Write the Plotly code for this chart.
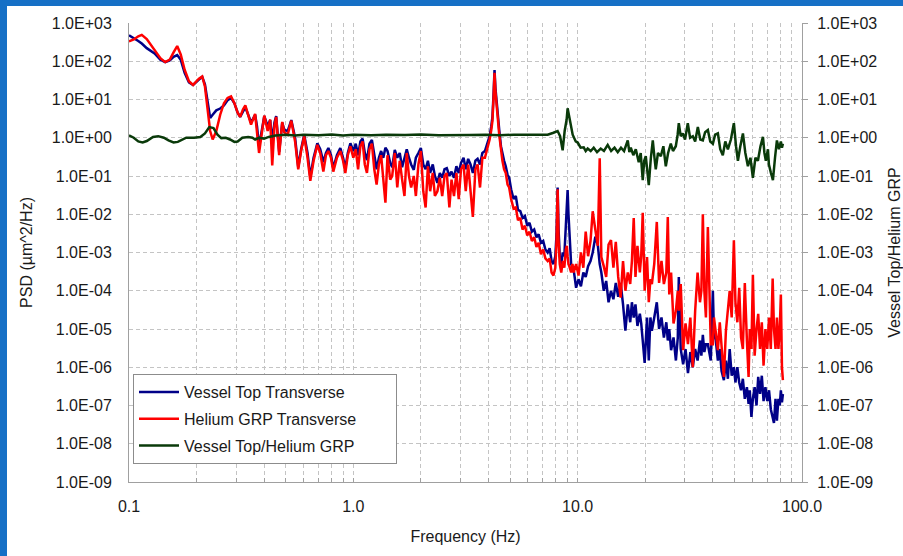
import plotly.graph_objects as go

# ---------------- data ----------------
# shared frequency grid of the two PSD spectra (Hz)
freq_psd = [
    0.100, 0.105, 0.110, 0.114, 0.120, 0.130, 0.138, 0.145, 0.152, 0.158,
    0.164, 0.170, 0.177, 0.185, 0.193, 0.205, 0.212, 0.218, 0.224, 0.230,
    0.236, 0.245, 0.255, 0.265, 0.275, 0.285, 0.295, 0.305, 0.313, 0.322,
    0.330, 0.340, 0.350, 0.365, 0.372, 0.380, 0.390, 0.401, 0.415, 0.426,
    0.435, 0.445, 0.453, 0.467, 0.482, 0.492, 0.510, 0.529, 0.550, 0.568,
    0.585, 0.604, 0.625, 0.643, 0.665, 0.691, 0.712, 0.735, 0.755, 0.774,
    0.795, 0.814, 0.845, 0.875, 0.900, 0.921, 0.945, 0.970,
    1.00, 1.025, 1.05, 1.075, 1.10, 1.125, 1.15, 1.18, 1.21, 1.24,
    1.27, 1.30, 1.33, 1.36, 1.39, 1.42, 1.46, 1.49, 1.53, 1.57,
    1.61, 1.65, 1.69, 1.73, 1.77, 1.81, 1.86, 1.90, 1.95, 2.00,
    2.05, 2.10, 2.15, 2.20, 2.26, 2.31, 2.37, 2.43, 2.49, 2.55,
    2.61, 2.68, 2.74, 2.81, 2.88, 2.95, 3.02, 3.10, 3.17, 3.25,
    3.33, 3.41, 3.50, 3.58, 3.67, 3.76, 3.86, 3.95, 4.05, 4.12,
    4.17, 4.22, 4.26, 4.30, 4.35, 4.40, 4.47, 4.55,
    4.62, 4.70, 4.78, 4.87, 4.95, 5.05, 5.18, 5.30, 5.42, 5.55,
    5.68, 5.82, 5.96, 6.10, 6.25, 6.40, 6.55, 6.70, 6.86, 7.02,
    7.18, 7.35, 7.50, 7.65, 7.80, 7.95, 8.05, 8.14, 8.22, 8.32,
    8.45, 8.58, 8.72, 8.86, 8.95, 9.02, 9.10, 9.22, 9.35, 9.48,
    9.60, 9.84, 10.09, 10.34, 10.60, 10.86, 11.13, 11.41, 11.67, 11.99,
    12.29, 12.54, 12.75, 13.07, 13.40, 13.73, 14.08, 14.43, 14.79, 15.16,
    15.54, 15.93, 16.32, 16.73, 17.15, 17.45, 17.78, 18.10, 18.47, 18.93,
    19.20, 19.50, 19.89, 20.38, 20.75, 21.10, 21.42, 21.95, 22.53, 23.06,
    23.64, 24.23, 24.84, 25.22, 25.60, 26.09, 26.75, 27.41, 27.95, 28.24,
    28.80, 29.52, 30.26, 31.02, 31.79, 32.59, 33.40, 34.24, 35.09, 35.60,
    36.14, 36.70, 37.30, 38.05, 38.80, 39.20, 40.06, 40.50, 41.30, 42.17,
    43.00, 43.80, 44.85, 45.80, 46.73, 47.60, 48.60, 49.70, 50.50, 51.50,
    52.50, 53.50, 54.50, 55.60, 56.80, 57.80, 58.50, 59.50, 60.40, 61.50,
    62.70, 63.80, 65.00, 66.20, 67.40, 68.70, 70.00, 71.30, 72.60, 74.00,
    74.99, 76.20, 77.30, 78.50, 79.60, 80.50, 81.40, 82.20,
]

# Vessel Top Transverse PSD (um^2/Hz)
psd_vessel = [
    480, 410, 340, 290, 220, 160, 110, 95, 105, 130,
    145, 110, 50, 28, 24, 33, 39, 25, 8, 3.3,
    4.0, 5.2, 5.8, 7, 9.5, 11, 8, 4.5, 3.5, 5,
    6.3, 4, 2.5, 4, 2, 0.6, 1.5, 3.7, 2.0, 2.9,
    0.8, 2.5, 3.7, 0.43, 2.5, 1.6, 1.5, 2.9, 1.0, 0.17,
    0.5, 1.2, 0.4, 0.093, 0.3, 0.72, 0.5, 0.23, 0.4, 0.54,
    0.35, 0.16, 0.35, 0.54, 0.3, 0.16, 0.4, 0.72,
    0.45, 0.7, 0.35, 0.8, 0.95, 0.4, 0.26, 0.7, 0.87, 0.35,
    0.15, 0.3, 0.45, 0.3, 0.55, 0.45, 0.22, 0.17, 0.48, 0.3,
    0.4, 0.17, 0.3, 0.5, 0.3, 0.2, 0.145, 0.3, 0.4, 0.54,
    0.2, 0.15, 0.25, 0.12, 0.2, 0.1, 0.066, 0.12, 0.09, 0.15,
    0.16, 0.1, 0.13, 0.09, 0.18, 0.12, 0.22, 0.3, 0.15, 0.28,
    0.2, 0.12, 0.25, 0.28, 0.2, 0.4, 0.45, 0.7, 1.1, 2.0,
    3.5, 15, 59, 20, 8, 4.5, 1.6, 0.6,
    0.35, 0.25, 0.18, 0.107, 0.09, 0.045, 0.025, 0.03, 0.013, 0.012,
    0.008, 0.009, 0.005, 0.006, 0.0035, 0.004, 0.0025, 0.003, 0.0018, 0.002,
    0.0012, 0.001, 0.0013, 0.0006, 0.0005, 0.0008, 0.003, 0.05, 0.004, 0.0008,
    0.0005, 0.001, 0.0008, 0.005, 0.02, 0.043, 0.01, 0.002, 0.0005, 0.0004,
    3.5e-4, 1.2e-4, 2.0e-4, 1.3e-4, 3.0e-4, 2.3e-4, 4.4e-4, 6.0e-4, 1.0e-3, 2.6e-3,
    1.6e-3, 5.0e-4, 3.0e-4, 1.0e-4, 1.8e-4, 5.0e-5, 1.0e-4, 6.0e-5, 1.6e-4, 7.0e-5,
    1.6e-4, 4.4e-5, 9.0e-6, 4.4e-5, 1.5e-5, 5.0e-5, 2.0e-5, 4.4e-5, 1.2e-5, 2.5e-5,
    1.4e-5, 5.0e-6, 1.3e-6, 2.0e-5, 1.5e-6, 2.0e-5, 9.0e-6, 2.0e-5, 5.0e-5, 1.0e-5,
    2.0e-5, 6.0e-6, 1.5e-5, 5.0e-6, 1.0e-5, 2.8e-6, 6.0e-6, 1.5e-6, 6.0e-6, 2.3e-4,
    3.0e-6, 1.2e-6, 3.0e-6, 7.0e-7, 2.5e-6, 1.0e-6, 3.0e-6, 1.5e-6, 5.0e-6, 2.0e-6,
    7.0e-6, 2.5e-6, 4.0e-6, 4.0e-6, 2.0e-6, 1.5e-6, 1.0e-4, 8.0e-6, 5.0e-6, 1.5e-6,
    3.0e-6, 8.0e-7, 4.6e-7, 1.5e-6, 5.0e-7, 3.0e-6, 6.0e-7, 1.0e-6, 4.0e-7, 1.0e-6,
    4.0e-7, 2.5e-7, 5.0e-7, 1.5e-7, 3.0e-7, 1.1e-7, 2.5e-7, 5.0e-8, 1.5e-7, 3.0e-7,
    1.0e-7, 5.6e-7, 2.0e-7, 6.0e-7, 1.3e-7, 3.0e-7, 1.3e-7, 2.5e-7, 8.0e-8, 5.0e-8,
    3.5e-8, 1.5e-7, 4.0e-8, 1.5e-7, 1.0e-7, 2.5e-7, 1.2e-7, 2.0e-7,
]

# Helium GRP Transverse PSD (um^2/Hz)
psd_helium = [
    330, 370, 450, 490, 380, 200, 120, 95, 110, 170,
    250, 150, 60, 30, 24, 35, 40, 22, 6, 1.5,
    0.9, 1.5, 4, 8, 11, 12, 8, 4.5, 3.5, 5.5,
    7, 4, 2.2, 4.2, 1.5, 0.4, 1.2, 3.8, 1.5, 3,
    0.19, 2, 3.5, 0.35, 2.6, 1.4, 1.2, 2.8, 0.8, 0.15,
    0.45, 1.1, 0.3, 0.075, 0.25, 0.65, 0.4, 0.13, 0.35, 0.45,
    0.3, 0.13, 0.3, 0.45, 0.25, 0.12, 0.35, 0.6,
    0.3, 0.5, 0.15, 0.6, 0.8, 0.2, 0.12, 0.5, 0.7, 0.15,
    0.06, 0.2, 0.35, 0.08, 0.02, 0.35, 0.08, 0.1, 0.4, 0.05,
    0.25, 0.08, 0.03, 0.4, 0.1, 0.05, 0.1, 0.03, 0.2, 0.45,
    0.04, 0.015, 0.18, 0.04, 0.12, 0.03, 0.04, 0.09, 0.03, 0.1,
    0.12, 0.015, 0.08, 0.03, 0.12, 0.025, 0.15, 0.2, 0.04, 0.2,
    0.03, 0.0085, 0.15, 0.2, 0.05, 0.3, 0.3, 0.5, 0.9, 1.6,
    2.8, 12, 50, 16, 6, 3.5, 1.2, 0.4,
    0.25, 0.15, 0.12, 0.06, 0.05, 0.025, 0.014, 0.015, 0.007, 0.008,
    0.004, 0.005, 0.0028, 0.0035, 0.002, 0.0025, 0.0014, 0.0018, 0.0009, 0.0012,
    0.0007, 0.0006, 0.0007, 0.0003, 0.00025, 0.0004, 0.002, 0.045, 0.002, 0.0005,
    0.0003, 0.0006, 0.0004, 0.0012, 0.0015, 0.0008, 0.0005, 0.0004, 0.0003, 0.0005,
    3.0e-4, 5.0e-4, 2.5e-4, 1.0e-3, 4.0e-4, 3.5e-3, 8.0e-4, 2.0e-3, 1.2e-2, 3.9e-3,
    1.5e-3, 0.29, 7.6e-4, 4.4e-4, 2.3e-4, 1.6e-3, 2.1e-3, 4.0e-4, 1.9e-3, 2.3e-4,
    6.6e-5, 6.0e-4, 1.0e-4, 3.0e-4, 1.5e-4, 6.0e-4, 8.0e-3, 2.3e-4, 1.5e-3, 3.0e-4,
    8.0e-4, 1.1e-2, 1.0e-4, 7.6e-4, 5.0e-5, 2.0e-4, 1.5e-4, 5.0e-4, 6.3e-3, 1.6e-4,
    6.0e-4, 1.5e-4, 3.0e-4, 8.5e-3, 8.0e-5, 3.0e-4, 1.4e-5, 3.0e-5, 1.0e-4, 3.0e-5,
    1.5e-4, 2.8e-6, 1.4e-5, 4.0e-6, 2.0e-5, 1.0e-6, 3.0e-5, 3.0e-4, 5.0e-5, 1.0e-4,
    1.0e-2, 1.0e-4, 2.0e-5, 4.6e-3, 2.0e-5, 4.0e-6, 4.0e-6, 2.0e-5, 8.0e-6, 2.8e-6,
    1.5e-5, 3.0e-6, 5.6e-7, 9.0e-6, 3.0e-5, 1.0e-4, 2.0e-5, 2.1e-3, 5.0e-5, 1.5e-5,
    1.2e-4, 6.0e-6, 3.0e-6, 1.6e-4, 5.0e-6, 5.6e-7, 1.0e-5, 3.0e-6, 2.6e-4, 2.0e-6,
    1.0e-5, 2.5e-5, 3.0e-6, 1.5e-5, 1.1e-6, 1.0e-5, 3.0e-6, 2.0e-5, 3.0e-6, 2.1e-4,
    1.0e-5, 3.0e-6, 2.0e-5, 3.0e-6, 1.0e-5, 8.0e-5, 1.0e-6, 4.6e-7,
]

# Vessel Top / Helium GRP ratio (right axis)
freq_ratio = [
    0.100, 0.105, 0.110, 0.115, 0.120, 0.128, 0.135, 0.143, 0.150, 0.158,
    0.165, 0.172, 0.180, 0.195, 0.208, 0.218, 0.228, 0.238, 0.248, 0.258,
    0.270, 0.282, 0.295, 0.305, 0.320, 0.340, 0.355, 0.365, 0.380, 0.400,
    0.420, 0.450, 0.500, 0.550, 0.600, 0.700, 0.800, 0.900, 1.00, 1.20,
    1.40, 1.70, 2.00, 2.40, 2.80, 3.30, 3.90, 4.50, 5.20, 6.00,
    6.80, 7.35, 7.80, 8.14, 8.35, 8.57, 8.75, 8.93, 9.02, 9.20,
    9.50, 9.80, 10.0, 10.31, 10.64, 10.86, 11.08, 11.43, 11.79, 12.2,
    12.67, 13.1, 13.61, 14.1, 14.6, 15.09, 15.6, 16.1, 16.72, 17.0,
    17.25, 17.7, 18.16, 18.72, 19.1, 19.5, 19.8, 20.12, 20.4, 20.75,
    21.2, 21.62, 22.0, 22.29, 22.8, 23.48, 24.1, 24.71, 25.3, 26.01,
    26.6, 27.38, 27.9, 28.24, 28.8, 29.43, 30.1, 30.97, 31.7, 32.61,
    33.4, 34.33, 35.2, 36.14, 37.0, 38.05, 39.0, 40.06, 41.0, 42.17,
    43.2, 44.36, 45.5, 46.73, 48.2, 49.7, 50.8, 51.8, 53.1, 54.53,
    55.9, 57.4, 58.9, 60.4, 62.0, 63.6, 65.3, 66.98, 68.0, 69.0,
    70.5, 71.2, 72.7, 74.2, 75.8, 77.3, 78.9, 80.5, 81.4, 82.2,
]
ratio_values = [
    1.15, 1.0, 0.8, 0.75, 0.82, 1.05, 1.1, 1.0, 0.85, 0.75,
    0.78, 0.9, 1.0, 1.0, 1.05, 1.3, 1.9, 1.8, 1.2, 0.98,
    1.0, 0.9, 0.78, 0.8, 1.0, 1.05, 1.0, 0.9, 1.0, 0.95,
    1.05, 1.15, 1.2, 1.15, 1.2, 1.17, 1.22, 1.15, 1.2, 1.16,
    1.2, 1.18, 1.21, 1.17, 1.2, 1.18, 1.2, 1.17, 1.2, 1.18,
    1.2, 1.2, 1.35, 1.5, 1.1, 0.47, 1.5, 3.0, 5.9, 3.0,
    1.2, 0.8, 0.75, 0.55, 0.56, 0.45, 0.52, 0.45, 0.55, 0.42,
    0.52, 0.45, 0.65, 0.45, 0.55, 0.42, 0.55, 0.45, 0.85, 0.42,
    0.55, 0.35, 0.5, 0.23, 0.4, 0.078, 0.25, 0.33, 0.12, 0.058,
    0.3, 0.85, 0.3, 0.15, 0.4, 0.33, 0.6, 0.18, 0.4, 0.7,
    0.45, 0.6, 1.2, 2.4, 1.1, 1.3, 0.9, 2.4, 1.0, 1.1,
    0.8, 1.9, 0.9, 0.85, 1.4, 1.6, 0.8, 0.7, 1.2, 1.3,
    0.5, 0.35, 0.8, 0.5, 0.9, 2.4, 0.6, 0.25, 0.6, 1.3,
    0.4, 0.18, 0.3, 0.09, 0.3, 0.25, 0.6, 1.05, 0.4, 0.25,
    0.5, 0.2, 0.12, 0.078, 0.3, 0.85, 0.5, 0.8, 0.55, 0.7,
]

series_names = ["Vessel Top Transverse", "Helium GRP Transverse", "Vessel Top/Helium GRP"]

x_tick_values = [0.1, 0.2, 0.3, 0.4, 0.5, 0.6, 0.7, 0.8, 0.9,
                 1, 2, 3, 4, 5, 6, 7, 8, 9,
                 10, 20, 30, 40, 50, 60, 70, 80, 90, 100]
x_tick_labels = ["0.1", "", "", "", "", "", "", "", "",
                 "1.0", "", "", "", "", "", "", "", "",
                 "10.0", "", "", "", "", "", "", "", "",
                 "100.0"]
y_tick_values = [1e-9, 1e-8, 1e-7, 1e-6, 1e-5, 1e-4, 1e-3, 1e-2, 1e-1, 1e0, 1e1, 1e2, 1e3]
y_tick_labels = ["1.0E-09", "1.0E-08", "1.0E-07", "1.0E-06", "1.0E-05", "1.0E-04",
                 "1.0E-03", "1.0E-02", "1.0E-01", "1.0E+00", "1.0E+01", "1.0E+02", "1.0E+03"]

assert len(freq_psd) == len(psd_vessel) == len(psd_helium)
assert len(freq_ratio) == len(ratio_values)

# ---------------- figure ----------------
FONT = "Liberation Sans, Arial, sans-serif"
GRID = "#c4c4c4"
AXIS = "#a0a0a0"
TXT = "#1a1a1a"
PAD = "\u00a0" * 8   # right padding inside the legend box

fig = go.Figure()
fig.add_trace(go.Scatter(x=freq_psd, y=psd_vessel, mode="lines",
                         name=series_names[0], legendgroup="a",
                         line=dict(color="#000088", width=2.5)))
fig.add_trace(go.Scatter(x=freq_psd, y=psd_helium, mode="lines",
                         name=series_names[1], legendgroup="b",
                         line=dict(color="#ff0000", width=2.5)))
fig.add_trace(go.Scatter(x=freq_ratio, y=ratio_values, mode="lines",
                         name=series_names[2] + PAD, legendgroup="c",
                         line=dict(color="#0a3a0a", width=2.5), yaxis="y2"))

W, H = 903, 556
ML, MR, MT, MB = 129, 101, 23, 74
pw, ph = W - ML - MR, H - MT - MB

fig.update_layout(
    width=W, height=H,
    margin=dict(l=ML, r=MR, t=MT, b=MB, pad=0, autoexpand=False),
    paper_bgcolor="#1670c6",
    plot_bgcolor="white",
    font=dict(family=FONT, size=16, color=TXT),
    showlegend=True,
    legend=dict(x=(133 - ML) / pw, y=(H - MB - 374) / ph, xanchor="left", yanchor="top",
                bgcolor="white", bordercolor="#8c8c8c", borderwidth=1,
                font=dict(family=FONT, size=16, color=TXT),
                tracegroupgap=3, itemwidth=40),
    shapes=[dict(type="rect", xref="paper", yref="paper",
                 x0=(7 - ML) / pw, x1=(W + 5 - ML) / pw,
                 y0=-(MB + 5) / ph, y1=(H - MB - 6) / ph,
                 fillcolor="white", line=dict(width=0), layer="below")],
    xaxis=dict(type="log", range=[-1, 2], tickvals=x_tick_values, ticktext=x_tick_labels,
               showgrid=True, gridcolor=GRID, griddash="4px,3px", gridwidth=1,
               showline=True, linecolor=AXIS, linewidth=1,
               ticks="inside", ticklen=4, tickcolor=AXIS,
               ticklabelstandoff=10, automargin=False,
               title=dict(text="Frequency (Hz)", standoff=16, font=dict(size=16)),
               zeroline=False),
    yaxis=dict(type="log", range=[-9, 3], tickvals=y_tick_values, ticktext=y_tick_labels,
               showgrid=True, gridcolor=GRID, griddash="4px,3px", gridwidth=1,
               showline=True, linecolor=AXIS, linewidth=1, ticks="",
               ticklabelstandoff=13, automargin=False,
               title=dict(text="PSD (µm^2/Hz)", standoff=15, font=dict(size=16)),
               zeroline=False),
    yaxis2=dict(type="log", range=[-9, 3], tickvals=y_tick_values, ticktext=y_tick_labels,
                overlaying="y", side="right", showgrid=False,
                showline=True, linecolor=AXIS, linewidth=1,
                ticks="outside", ticklen=5, tickcolor=AXIS,
                ticklabelstandoff=6, automargin=False,
                title=dict(text="Vessel Top/Helium GRP", standoff=23, font=dict(size=16)),
                zeroline=False),
)

fig.write_html("out.html")
